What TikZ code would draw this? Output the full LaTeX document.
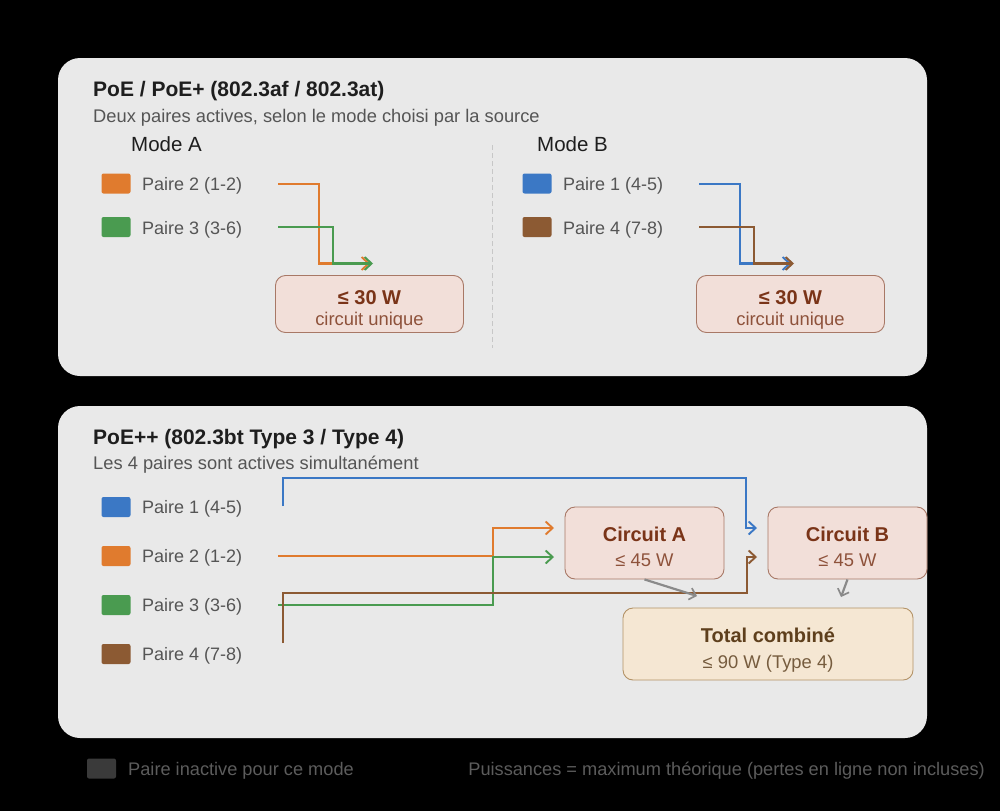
\documentclass[tikz,border=0pt]{standalone}
\usepackage{fontspec}
\setmainfont{Liberation Sans}
\usetikzlibrary{arrows.meta}

\definecolor{panel}{HTML}{E9E9E9}
\definecolor{ink}{HTML}{1E1E1E}
\definecolor{subink}{HTML}{555555}
\definecolor{footink}{HTML}{5C5C5C}
\definecolor{pairorange}{HTML}{E07B2E}
\definecolor{pairgreen}{HTML}{4A9B50}
\definecolor{pairblue}{HTML}{3B78C5}
\definecolor{pairbrown}{HTML}{8C5A33}
\definecolor{pairoff}{HTML}{3A3A3A}
\definecolor{circfill}{HTML}{F2DFD9}
\definecolor{circdraw}{HTML}{A87866}
\definecolor{circink}{HTML}{7A3418}
\definecolor{totfill}{HTML}{F5E7D3}
\definecolor{totdraw}{HTML}{B39266}
\definecolor{totink}{HTML}{5E3F1C}
\definecolor{sumgray}{HTML}{8A8A8A}

\tikzstyle{panelbox}=[fill=panel, rounded corners=22pt]
\tikzstyle{paneltitle}=[anchor=base west, inner sep=0, text=ink,
  font=\fontsize{21}{24}\selectfont\bfseries]
\tikzstyle{panelsub}=[anchor=base west, inner sep=0, text=subink,
  font=\fontsize{18.3}{21}\selectfont]
\tikzstyle{modelabel}=[anchor=base west, inner sep=0, text=ink,
  font=\fontsize{20.5}{24}\selectfont]
\tikzstyle{swatch}=[rounded corners=2pt, minimum width=29pt,
  minimum height=20pt, inner sep=0]
\tikzstyle{pairlabel}=[anchor=base west, inner sep=0, text=subink,
  font=\fontsize{18}{20}\selectfont]
\tikzstyle{footlabel}=[anchor=base west, inner sep=0, text=footink,
  font=\fontsize{18.2}{21}\selectfont]
\tikzstyle{wire}=[line width=2.4pt,
  -{Straight Barb[length=7pt, width=13pt, line width=1.9pt]}]
\tikzstyle{circbox}=[draw=circdraw, fill=circfill, rounded corners=10pt,
  line width=0.9pt, inner sep=0]
\tikzstyle{totbox}=[draw=totdraw, fill=totfill, rounded corners=10pt,
  line width=0.9pt, inner sep=0]
\tikzstyle{bigval}=[anchor=base, inner sep=0, font=\fontsize{20}{24}\selectfont\bfseries]
\tikzstyle{smallval}=[anchor=base, inner sep=0, font=\fontsize{18.4}{21}\selectfont]
\tikzstyle{sumarrow}=[draw=sumgray, line width=2.2pt,
  -{Straight Barb[length=6pt, width=12pt, line width=1.7pt]}]

\begin{document}
\begin{tikzpicture}[x=1pt, y=-1pt]
\useasboundingbox (0,0) rectangle (1000,811);
\fill[black] (0,0) rectangle (1000,811);
%
% PoE / PoE+ panel
\fill[panelbox] (58,58) rectangle (927,376);
\draw (93,96) node[paneltitle](titleA){PoE / PoE+ (802.3af / 802.3at)};
\draw (93,122) node[panelsub](subA){Deux paires actives, selon le mode choisi par la source};
\draw[draw=black!22, line width=0.8pt, dash pattern=on 5pt off 3pt] (492,145) -- (492,348);
%
\foreach \x/\mx/\ca/\cb/\la/\lb/\m in
  {0/131/pairorange/pairgreen/{Paire 2 (1-2)}/{Paire 3 (3-6)}/A,
   421/537/pairblue/pairbrown/{Paire 1 (4-5)}/{Paire 4 (7-8)}/B}{
  \draw (\mx,151) node[modelabel](mode\m){Mode \m};
  \draw (\x+116,183.5) node[swatch, fill=\ca](swa\m){};
  \draw (\x+142,190.5) node[pairlabel](laba\m){\la};
  \draw (\x+116,227) node[swatch, fill=\cb](swb\m){};
  \draw (\x+142,234) node[pairlabel](labb\m){\lb};
  % wires into the single circuit
  \coordinate (sa\m) at (\x+278,184);
  \coordinate (sb\m) at (\x+278,227);
  \coordinate (ea\m) at (\x+370,263.5);
  \coordinate (eb\m) at (\x+373,263.5);
  \draw[wire, draw=\ca] (sa\m) -| (\x+319,263.5) -- (ea\m);
  \draw[wire, draw=\cb] (sb\m) -| (\x+333,263.5) -- (eb\m);
  %
  \draw (\x+369.5,304) node[circbox, minimum width=188pt, minimum height=57pt](box\m){};
  \draw (\x+369.5,304) node[bigval, text=circink](val\m){≤ 30 W};
  \draw (\x+369.5,325) node[smallval, text=circink!85!white](sub\m){circuit unique};
}
%
% PoE++ panel
\fill[panelbox] (58,406) rectangle (927,738);
\draw (93,444) node[paneltitle](titleB){PoE++ (802.3bt Type 3 / Type 4)};
\draw (93,469) node[panelsub](subB){Les 4 paires sont actives simultanément};
\foreach \c/\t [count=\n] in {pairblue/{Paire 1 (4-5)}, pairorange/{Paire 2 (1-2)},
  pairgreen/{Paire 3 (3-6)}, pairbrown/{Paire 4 (7-8)}}{
  \draw (116,507+49*\n-49) node[swatch, fill=\c](pair\n){};
  \draw (142,513.5+49*\n-49) node[pairlabel](plab\n){\t};
}
%
\draw (644.5,543) node[circbox, minimum width=159pt, minimum height=72pt](circA){};
\draw (644.5,541) node[bigval, text=circink](circAname){Circuit A};
\draw (644.5,566) node[smallval, text=circink!85!white](circAval){≤ 45 W};
\draw (847.5,543) node[circbox, minimum width=159pt, minimum height=72pt](circB){};
\draw (847.5,541) node[bigval, text=circink](circBname){Circuit B};
\draw (847.5,566) node[smallval, text=circink!85!white](circBval){≤ 45 W};
\draw (768,644) node[totbox, minimum width=290pt, minimum height=72pt](total){};
\draw (768,642) node[bigval, text=totink](totname){Total combiné};
\draw (768,668) node[smallval, text=totink!85!white](totval){≤ 90 W (Type 4)};
%
% the four pairs, two per circuit
\coordinate (s1) at (283,506);  \coordinate (e1) at (757,528);
\coordinate (s2) at (278,556);  \coordinate (e2) at (554,528);
\coordinate (s3) at (278,605);  \coordinate (e3) at (554,557);
\coordinate (s4) at (283,643);  \coordinate (e4) at (757,557);
\draw[wire, draw=pairblue] (s1) |- (746,478) |- (e1);
\draw[wire, draw=pairorange] (s2) -| (493,528) -- (e2);
\draw[wire, draw=pairgreen] (s3) -| (493,557) -- (e3);
\draw[wire, draw=pairbrown] (s4) |- (747,593) |- (e4);
% sums
\coordinate (tA) at (697,596);
\coordinate (tB) at (841,597);
\draw[sumarrow] (circA.south) -- (tA);
\draw[sumarrow] (circB.south) -- (tB);
%
% footer
\draw (101.5,768.5) node[swatch, fill=pairoff](offkey){};
\draw (128,775) node[footlabel](offlab){Paire inactive pour ce mode};
\draw (985,775) node[footlabel, anchor=base east](note){Puissances = maximum théorique (pertes en ligne non incluses)};
\end{tikzpicture}
\end{document}
